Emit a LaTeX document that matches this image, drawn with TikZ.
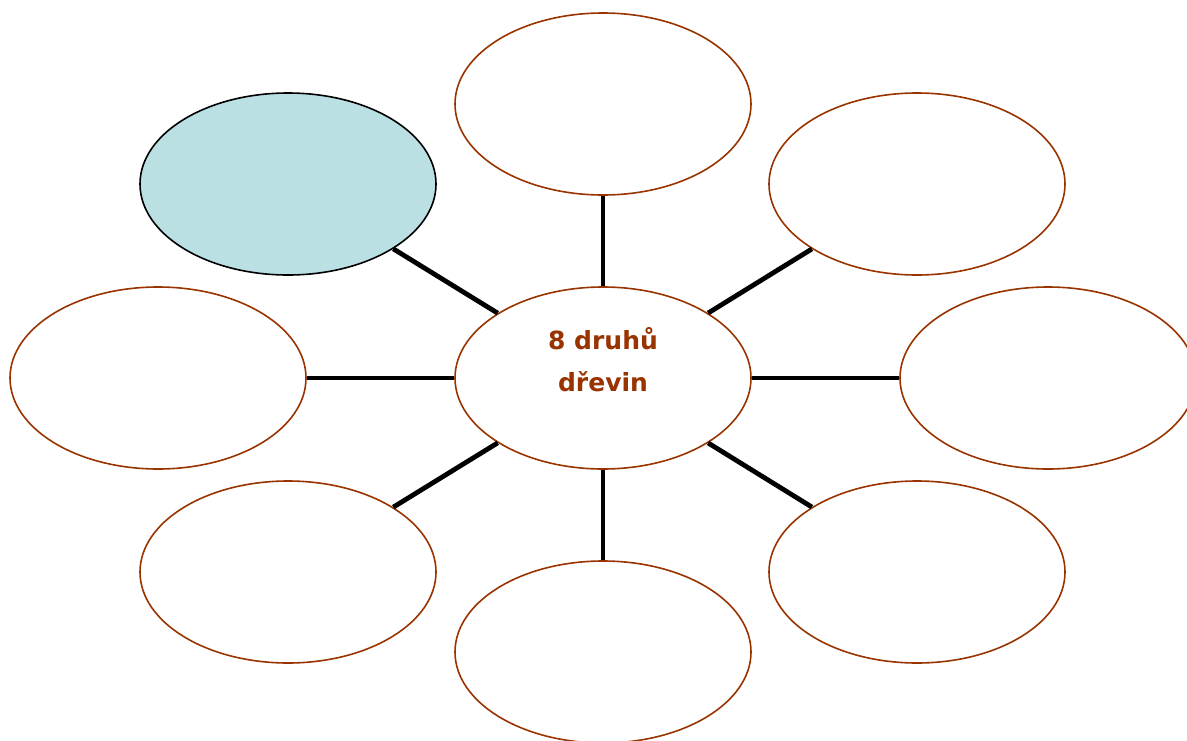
\documentclass[tikz,border=0pt]{standalone}
\usepackage{fontspec}
\setmainfont{DejaVu Sans}
\usetikzlibrary{shapes.geometric}
\definecolor{brn}{HTML}{993300}
\definecolor{lblue}{HTML}{BBE0E3}
\begin{document}
\begin{tikzpicture}[x=1pt,y=-1pt,
  bubble/.style={ellipse,draw=brn,line width=1.6pt,minimum width=296pt,minimum height=182pt,inner sep=0pt,fill=white},
  spoke/.style={line width=4.8pt,black}]
\useasboundingbox (0,0) rectangle (1187,740);
\node[bubble] (c) at (603,378) {};
\node[bubble] (t) at (603,104) {};
\node[bubble] (tr) at (917,184) {};
\node[bubble] (r) at (1048,378) {};
\node[bubble] (br) at (917,572) {};
\node[bubble] (b) at (603,652) {};
\node[bubble] (bl) at (288,572) {};
\node[bubble] (l) at (158,378) {};
\node[bubble,draw=black,fill=lblue] (tl) at (288,184) {};
\foreach \n in {t,tr,r,br,b,bl,l,tl}{\draw[spoke] (c) -- (\n);}
\node[align=center,text=brn,font=\fontsize{25}{42}\selectfont\bfseries] (lbl) at (603,360) {8 druhů\\dřevin};
\end{tikzpicture}
\end{document}
